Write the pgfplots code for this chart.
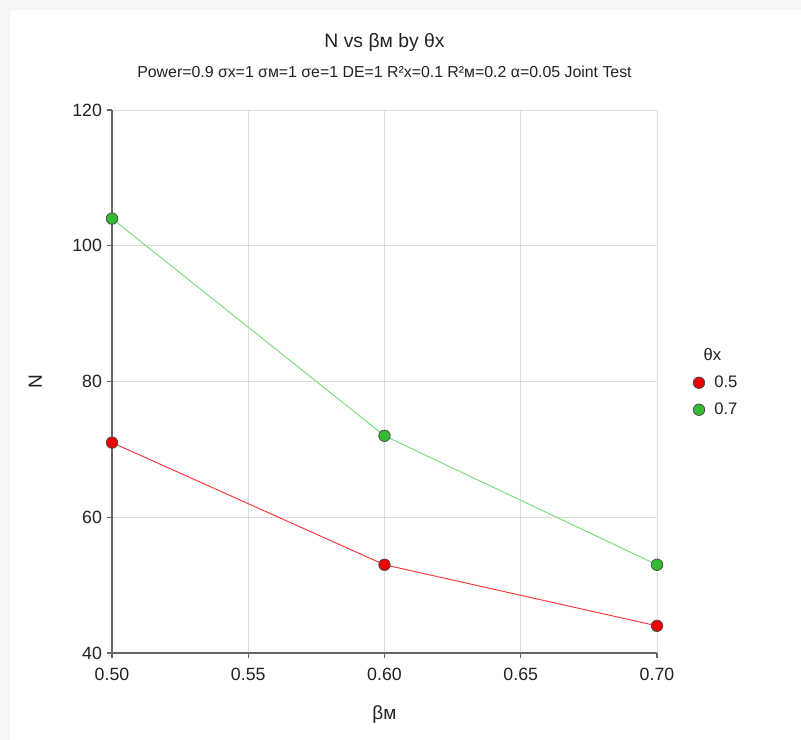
\documentclass[border=0pt]{standalone}
\usepackage{fontspec}
\setmainfont{Liberation Sans}
\usepackage{pgfplots}
\pgfplotsset{compat=1.18}
\definecolor{bgray}{HTML}{F5F5F5}
\definecolor{axgray}{HTML}{666666}
\definecolor{grd}{HTML}{DCDCDC}
\definecolor{rl}{HTML}{FF3333}
\definecolor{rf}{HTML}{EE0000}
\definecolor{gl}{HTML}{77DD77}
\definecolor{gf}{HTML}{33BB33}
\definecolor{txt}{HTML}{222222}
\begin{document}
\begin{tikzpicture}[x=0.75pt,y=0.75pt]
\path[use as bounding box] (-112,-87) rectangle (689,653);
\fill[bgray] (-112,-87) rectangle (689,653);
\fill[white] (-102,-87) rectangle (689,643);
\begin{axis}[
  at={(0,0)}, anchor=origin,
  scale only axis, width=408.75pt, height=407.25pt,
  xmin=0.5, xmax=0.7, ymin=40, ymax=120,
  xtick={0.5,0.55,0.6,0.65,0.7},
  ytick={40,60,80,100,120},
  xticklabel style={/pgf/number format/fixed,/pgf/number format/fixed zerofill,/pgf/number format/precision=2, yshift=-4pt},
  /pgf/number format/assume math mode=true,
  ticklabel style={font=\fontsize{13.3}{15}\selectfont, text=txt},
  axis lines*=left,
  axis line style={axgray, line width=0.9pt},
  tick style={axgray, line width=0.9pt},
  tick align=outside, major tick length=4pt,
  grid=major, major grid style={grd, line width=0.6pt},
  xlabel={βм}, ylabel={N},
  label style={font=\fontsize{14.3}{16}\selectfont, text=txt},
  xlabel style={yshift=-12pt},
  ylabel style={yshift=16pt},
  title style={align=center, text=txt},
  title={{\fontsize{14.5}{16}\selectfont N vs βм by θx}\\[11pt]{\fontsize{11.9}{14}\selectfont Power=0.9 σx=1 σм=1 σe=1 DE=1 R²x=0.1 R²м=0.2 α=0.05 Joint Test}},
  title style={yshift=14.5pt},
  clip=false,
  legend image code/.code={\draw[#1, only marks] plot coordinates {(0.5em,0)}; \path[draw=none] (0,0) (1.45em,0);},
  legend style={at={(1.057,0.571)}, anchor=north west, draw=none, fill=none,
    font=\fontsize{12.5}{14}\selectfont, text=txt, row sep=6pt},
  legend cell align=left,
]
\addlegendimage{empty legend}
\addlegendentry{\hspace{-8pt}θx}
\addplot[rl, line width=0.7pt, mark=*, mark size=4.3pt, mark options={fill=rf, draw=black!70, line width=0.6pt}] coordinates {(0.5,71) (0.6,53) (0.7,44)};
\addlegendentry{0.5}
\addplot[gl, line width=0.7pt, mark=*, mark size=4.3pt, mark options={fill=gf, draw=black!70, line width=0.6pt}] coordinates {(0.5,104) (0.6,72) (0.7,53)};
\addlegendentry{0.7}
\end{axis}
\end{tikzpicture}
\end{document}
